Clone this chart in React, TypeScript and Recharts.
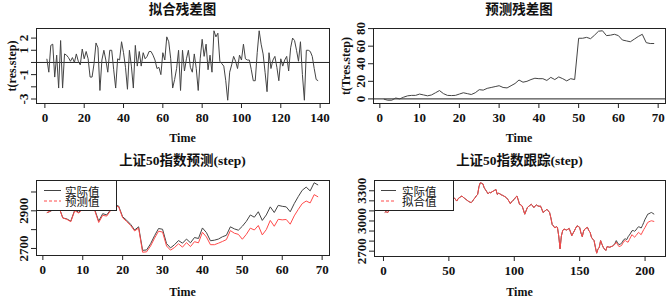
import React from "react";
import { LineChart, Line, XAxis, YAxis, ReferenceLine } from "recharts";

// 拟合残差 t(res.step)
const resFit = [
  0.3, -0.8, 1.4, 1.5, -1.2, 0.6, -2.1, 1.8, -2.1, 0.7,
  0.6, 0.4, 0.1, 0.4, 0.0, 0.7, 0.1, -0.2, 1.1, 0.3,
  0.9, 0.3, -1.2, -1.2, -0.1, 1.6, 1.2, -2.3, 0.2, 1.0,
  0.2, -0.8, 1.0, 1.0, -0.6, -2.1, 0.3, 0.2, 1.7, 0.8,
  -0.4, -2.2, 1.0, -0.3, -2.1, 1.4, -0.3, 0.9, -0.3, 0.8,
  0.3, 0.5, 0.9, 0.9, 0.6, 0.2, -0.5, -0.4, -1.0, 0.8,
  0.2, 2.1, 1.7, 0.3, -2.1, -1.4, -0.5, 1.0, -2.3, 1.0,
  -0.7, 0.3, 1.0, -0.4, -0.8, 0.7, -0.5, -2.3, 0.3, 1.9,
  0.5, 1.5, -0.6, 0.6, -0.8, 2.6, 2.1, 2.4, 0.1, -0.1,
  -0.3, -1.5, -3.1, -0.8, -0.2, 0.5, 0.1, -0.5, 0.6, 0.2,
  1.5, 0.3, 0.2, 0.2, -0.6, -1.5, -1.5, 0.8, 2.6, 1.5,
  0.7, -0.8, -2.4, 0.8, -0.5, 0.2, 0.5, -0.4, -1.5, 0.3,
  -0.3, 0.2, 0.5, -0.7, 1.2, 2.0, 1.8, 1.0, 0.1, 1.7,
  -1.0, -3.1, 1.0, 1.0, 0.9, 0.5, -0.5, -1.4, -1.5,
];

// 预测残差 t(Tres.step)
const resPred = [
  -0.3, -1.5, -1.5, 1, 0, 2, 3.5, 4, 4, 5.5,
  4.5, 3.5, 4.5, 7, 9.5, 6, 4, 3.8, 4, 5.5,
  7, 6, 5, 7, 10.5, 10, 12, 13, 14, 15,
  13, 12.5, 15, 17.5, 21.5, 19, 20, 22, 23.5, 23,
  23, 21, 24.5, 22, 25, 23, 20.5, 23, 22, 69,
  69, 70, 68.5, 72.5, 77, 77.5, 72, 72.5, 73.5, 72,
  67, 66, 65, 68, 71, 73.5, 64, 63, 63,
];

// 上证50指数预测: 实际值 / 预测值
const predActual = [
  2890, 2898, 2915, 2922, 2862, 2857, 2845, 2905, 2892, 2915,
  2922, 2918, 2906, 2845, 2885, 2878, 2906, 2932, 2925, 2868,
  2850, 2828, 2798, 2815, 2690, 2692, 2725, 2768, 2806, 2802,
  2726, 2703, 2720, 2742, 2728, 2750, 2730, 2758, 2753, 2809,
  2784, 2741, 2744, 2750, 2762, 2770, 2815, 2804, 2797, 2818,
  2844, 2878, 2866, 2895, 2849, 2878, 2921, 2891, 2929, 2924,
  2921, 2895, 2938, 2975, 3009, 3026, 3006, 3049, 3037,
];
const predForecast = [
  2890, 2900, 2917, 2921, 2862, 2855, 2842, 2901, 2888, 2910,
  2918, 2915, 2902, 2838, 2876, 2872, 2902, 2928, 2921, 2863,
  2843, 2822, 2793, 2808, 2680, 2682, 2713, 2755, 2792, 2787,
  2713, 2691, 2705, 2725, 2707, 2731, 2710, 2736, 2730, 2786,
  2761, 2720, 2720, 2728, 2737, 2747, 2795, 2781, 2775, 2749,
  2775, 2808, 2798, 2822, 2772, 2800, 2849, 2818, 2855, 2852,
  2854, 2829, 2873, 2907, 2938, 2952, 2942, 2986, 2974,
];

// 上证50指数跟踪: both series coincide up to t=175
const trackShared = [
  3085, 3095, 3080, 3100,
  3110, 3130, 3150, 3170, 3160, 3180, 3200, 3190, 3210, 3230,
  3220, 3240, 3250, 3235, 3220, 3240, 3260, 3250, 3230, 3215,
  3200, 3190, 3205, 3220, 3235, 3250, 3240, 3225, 3210, 3195,
  3180, 3170, 3185, 3200, 3215, 3225, 3240, 3255, 3245, 3230,
  3215, 3200, 3190, 3180, 3200, 3220, 3235, 3245, 3240,
  3231, 3215, 3198, 3220, 3231, 3240, 3248, 3235, 3225, 3215,
  3205, 3195, 3188, 3182, 3195, 3215, 3230, 3250, 3264, 3340,
  3379, 3375, 3369, 3330, 3310, 3290, 3270, 3285, 3280, 3290,
  3297, 3305, 3313, 3264, 3275, 3270, 3260, 3255, 3248, 3240,
  3231, 3215, 3195, 3172, 3190, 3205, 3215, 3235, 3248, 3210,
  3166, 3160, 3149, 3110, 3067, 3100, 3133, 3145, 3155, 3166,
  3150, 3133, 3150, 3159, 3150, 3145, 3149, 3120, 3084, 3095,
  3105, 3116, 3100, 3084, 3030, 2965, 2950, 2930, 2945, 2936,
  2850, 2723, 2850, 2903, 2920, 2915, 2910, 2918, 2926, 2890,
  2854, 2880, 2903, 2930, 2952, 2945, 2936, 2880, 2844, 2900,
  2920, 2930, 2936, 2905, 2887, 2838, 2820, 2805, 2740, 2680,
  2720, 2739, 2805, 2770, 2739, 2720, 2707, 2746, 2742, 2739,
  2745, 2750,
];
const trackActualTail = [
  2760, 2778, 2805, 2782, 2765, 2770, 2778, 2800, 2818, 2822,
  2815, 2843, 2860, 2880, 2903, 2905, 2897, 2910, 2928, 2943,
  2938, 2930, 2955, 2985, 3018, 3040, 3067, 3072, 3080, 3084,
  3075, 3067,
];
const trackFittedTail = [
  2756, 2770, 2789, 2765, 2746, 2750, 2756, 2780, 2800, 2805,
  2795, 2789, 2815, 2840, 2864, 2850, 2838, 2855, 2870, 2887,
  2875, 2864, 2890, 2915, 2936, 2960, 2985, 2992, 2998, 3002,
  2998, 2995,
];

const resFitXTicks = [0, 20, 40, 60, 80, 100, 120, 140];
const resFitYTicks = [-3, -2, -1, 0, 1, 2];
const resFitYLabels = ["-3", "", "-1", "", "1", "2"];
const resPredXTicks = [0, 10, 20, 30, 40, 50, 60, 70];
const resPredYTicks = [0, 20, 40, 60, 80];
const resPredYLabels = ["0", "20", "40", "60", "80"];
const predXTicks = [0, 10, 20, 30, 40, 50, 60, 70];
const predYTicks = [2700, 2800, 2900, 3000];
const predYLabels = ["2700", "", "2900", ""];
const trackXTicks = [0, 50, 100, 150, 200];
const trackYTicks = [2700, 2800, 2900, 3000, 3100, 3200, 3300];
const trackYLabels = ["2700", "", "", "3000", "", "", "3300"];

const INK = "#222";
const GREY = "#444";
const RED = "#ff4a4a";
const SERIF = "'Liberation Serif', 'Noto Sans CJK SC', serif";
const tickFont = { fontSize: 13, fontWeight: 700, fontFamily: SERIF, fill: "#111" };

// R-style axis range: data range widened by 4% on each side
const pad = (vals: number[]): [number, number] => {
  const lo = Math.min(...vals);
  const hi = Math.max(...vals);
  const d = (hi - lo) * 0.04;
  return [lo - d, hi + d];
};

const rows = (cols: Record<string, number[]>) => {
  const keys = Object.keys(cols);
  return cols[keys[0]].map((_, i) => {
    const r: Record<string, number> = { t: i + 1 };
    keys.forEach((k) => (r[k] = cols[k][i]));
    return r;
  });
};

type Box = { l: number; t: number; r: number; b: number };
type Series = { key: string; color: string };
type LegendItem = { label: string; color: string; dashed?: boolean };

interface PanelProps {
  x: number;
  y: number;
  w: number;
  h: number;
  box: Box;
  title: string;
  titleTop: number;
  timeTop: number;
  yTitle?: string;
  data: Record<string, number>[];
  series: Series[];
  xTicks: number[];
  yTicks: number[];
  yLabels: string[];
  yValues: number[];
  zero?: boolean;
  legend?: { w: number; lineX: number; lineW: number; textX: number; items: LegendItem[] };
}

function Panel(p: PanelProps) {
  const n = p.data.length;
  const xDomain = pad([1, n]);
  const yDomain = pad(p.yValues);
  const cx = (p.box.l + p.box.r) / 2;
  const cy = (p.box.t + p.box.b) / 2;

  const yTick = (props: any) => {
    const { x, y, payload } = props;
    const i = p.yTicks.indexOf(payload.value);
    const s = i >= 0 ? p.yLabels[i] : "";
    return (
      <text x={x} y={y} transform={`rotate(-90 ${x} ${y})`} textAnchor="middle" {...tickFont}>
        {s}
      </text>
    );
  };

  const lg = p.legend;

  return (
    <div style={{ position: "absolute", left: p.x, top: p.y, width: p.w, height: p.h }}>
      <LineChart
        width={p.w}
        height={p.h}
        data={p.data}
        margin={{ top: p.box.t, right: p.w - p.box.r, left: 0, bottom: 0 }}
      >
        <XAxis
          dataKey="t"
          type="number"
          domain={xDomain}
          ticks={p.xTicks}
          interval={0}
          height={p.h - p.box.b}
          axisLine={false}
          tickLine={{ stroke: INK }}
          tickSize={5}
          tickMargin={5}
          tick={tickFont}
          allowDataOverflow
        />
        <YAxis
          type="number"
          domain={yDomain}
          ticks={p.yTicks}
          interval={0}
          width={p.box.l}
          axisLine={false}
          tickLine={{ stroke: INK }}
          tickSize={5}
          tickMargin={3}
          tick={yTick}
          allowDataOverflow
        />
        {p.zero && <ReferenceLine y={0} stroke={INK} strokeWidth={1} />}
        {p.series.map((s) => (
          <Line
            key={s.key}
            dataKey={s.key}
            stroke={s.color}
            strokeWidth={1}
            dot={false}
            isAnimationActive={false}
          />
        ))}
      </LineChart>

      <div
        style={{
          position: "absolute",
          left: p.box.l,
          top: p.box.t,
          width: p.box.r - p.box.l + 1,
          height: p.box.b - p.box.t + 1,
          border: `1px solid ${INK}`,
          boxSizing: "border-box",
          pointerEvents: "none",
        }}
      />

      {lg && (
        <div
          style={{
            position: "absolute",
            left: p.box.l,
            top: p.box.t,
            width: lg.w,
            height: 31,
            border: `1px solid ${INK}`,
            boxSizing: "border-box",
            background: "#fff",
          }}
        >
          <svg width={lg.w} height={29} style={{ position: "absolute", left: 0, top: 0 }}>
            {lg.items.map((it, i) => (
              <line
                key={it.label}
                x1={lg.lineX}
                x2={lg.lineX + lg.lineW}
                y1={9.5 + i * 10.5}
                y2={9.5 + i * 10.5}
                stroke={it.color}
                strokeWidth={1}
                strokeDasharray={it.dashed ? "3 2" : undefined}
              />
            ))}
          </svg>
          <span
            style={{
              position: "absolute",
              left: lg.textX,
              top: 4.5,
              fontFamily: "'Noto Sans CJK SC', sans-serif",
              fontSize: 11.5,
              lineHeight: "10.5px",
              color: "#111",
              whiteSpace: "pre-line",
            }}
          >
            {lg.items.map((it) => it.label).join("\n")}
          </span>
        </div>
      )}

      <div
        style={{
          position: "absolute",
          left: cx - 100,
          width: 200,
          top: p.titleTop,
          textAlign: "center",
          fontFamily: SERIF,
          fontWeight: 700,
          fontSize: 13.5,
          lineHeight: "18px",
          color: "#111",
          whiteSpace: "nowrap",
        }}
      >
        {p.title}
      </div>

      <div
        style={{
          position: "absolute",
          left: cx - 40,
          width: 80,
          top: p.timeTop,
          textAlign: "center",
          fontFamily: SERIF,
          fontWeight: 700,
          fontSize: 12,
          lineHeight: "16px",
          color: "#111",
        }}
      >
        Time
      </div>

      {p.yTitle && (
        <div
          style={{
            position: "absolute",
            left: 12,
            top: cy,
            transform: "translate(-50%, -50%) rotate(-90deg)",
            fontFamily: SERIF,
            fontWeight: 700,
            fontSize: 12,
            lineHeight: "14px",
            color: "#111",
            whiteSpace: "nowrap",
          }}
        >
          {p.yTitle}
        </div>
      )}
    </div>
  );
}

export default function App() {
  const resFitRows = rows({ v: resFit });
  const resPredRows = rows({ v: resPred });
  const predRows = rows({ actual: predActual, forecast: predForecast });
  const trackActual = [...trackShared, ...trackActualTail];
  const trackFitted = [...trackShared, ...trackFittedTail];
  const trackRows = rows({ actual: trackActual, fitted: trackFitted });

  return (
    <div style={{ position: "absolute", left: 0, top: 0, width: 667, height: 298, background: "#fff", overflow: "hidden" }}>
      <Panel
        x={0}
        y={0}
        w={334}
        h={149}
        box={{ l: 36, t: 28, r: 329, b: 103 }}
        title="拟合残差图"
        titleTop={1}
        timeTop={130}
        yTitle="t(res.step)"
        data={resFitRows}
        series={[{ key: "v", color: GREY }]}
        xTicks={resFitXTicks}
        yTicks={resFitYTicks}
        yLabels={resFitYLabels}
        yValues={resFit}
        zero
      />
      <Panel
        x={334}
        y={0}
        w={333}
        h={149}
        box={{ l: 39, t: 28, r: 331, b: 103 }}
        title="预测残差图"
        titleTop={1}
        timeTop={130}
        yTitle="t(Tres.step)"
        data={resPredRows}
        series={[{ key: "v", color: GREY }]}
        xTicks={resPredXTicks}
        yTicks={resPredYTicks}
        yLabels={resPredYLabels}
        yValues={resPred}
        zero
      />
      <Panel
        x={0}
        y={149}
        w={334}
        h={149}
        box={{ l: 36, t: 31, r: 329, b: 106 }}
        title="上证50指数预测(step)"
        titleTop={3}
        timeTop={135}
        data={predRows}
        series={[
          { key: "actual", color: GREY },
          { key: "forecast", color: RED },
        ]}
        xTicks={predXTicks}
        yTicks={predYTicks}
        yLabels={predYLabels}
        yValues={[...predActual, ...predForecast]}
        legend={{
          w: 81,
          lineX: 7,
          lineW: 17,
          textX: 28,
          items: [
            { label: "实际值", color: GREY },
            { label: "预测值", color: RED, dashed: true },
          ],
        }}
      />
      <Panel
        x={334}
        y={149}
        w={333}
        h={149}
        box={{ l: 40, t: 31, r: 331, b: 107 }}
        title="上证50指数跟踪(step)"
        titleTop={3}
        timeTop={135}
        data={trackRows}
        series={[
          { key: "actual", color: GREY },
          { key: "fitted", color: RED },
        ]}
        xTicks={trackXTicks}
        yTicks={trackYTicks}
        yLabels={trackYLabels}
        yValues={[...trackActual, ...trackFitted]}
        legend={{
          w: 80,
          lineX: 6,
          lineW: 15,
          textX: 27,
          items: [
            { label: "实际值", color: GREY },
            { label: "拟合值", color: RED, dashed: true },
          ],
        }}
      />
    </div>
  );
}
